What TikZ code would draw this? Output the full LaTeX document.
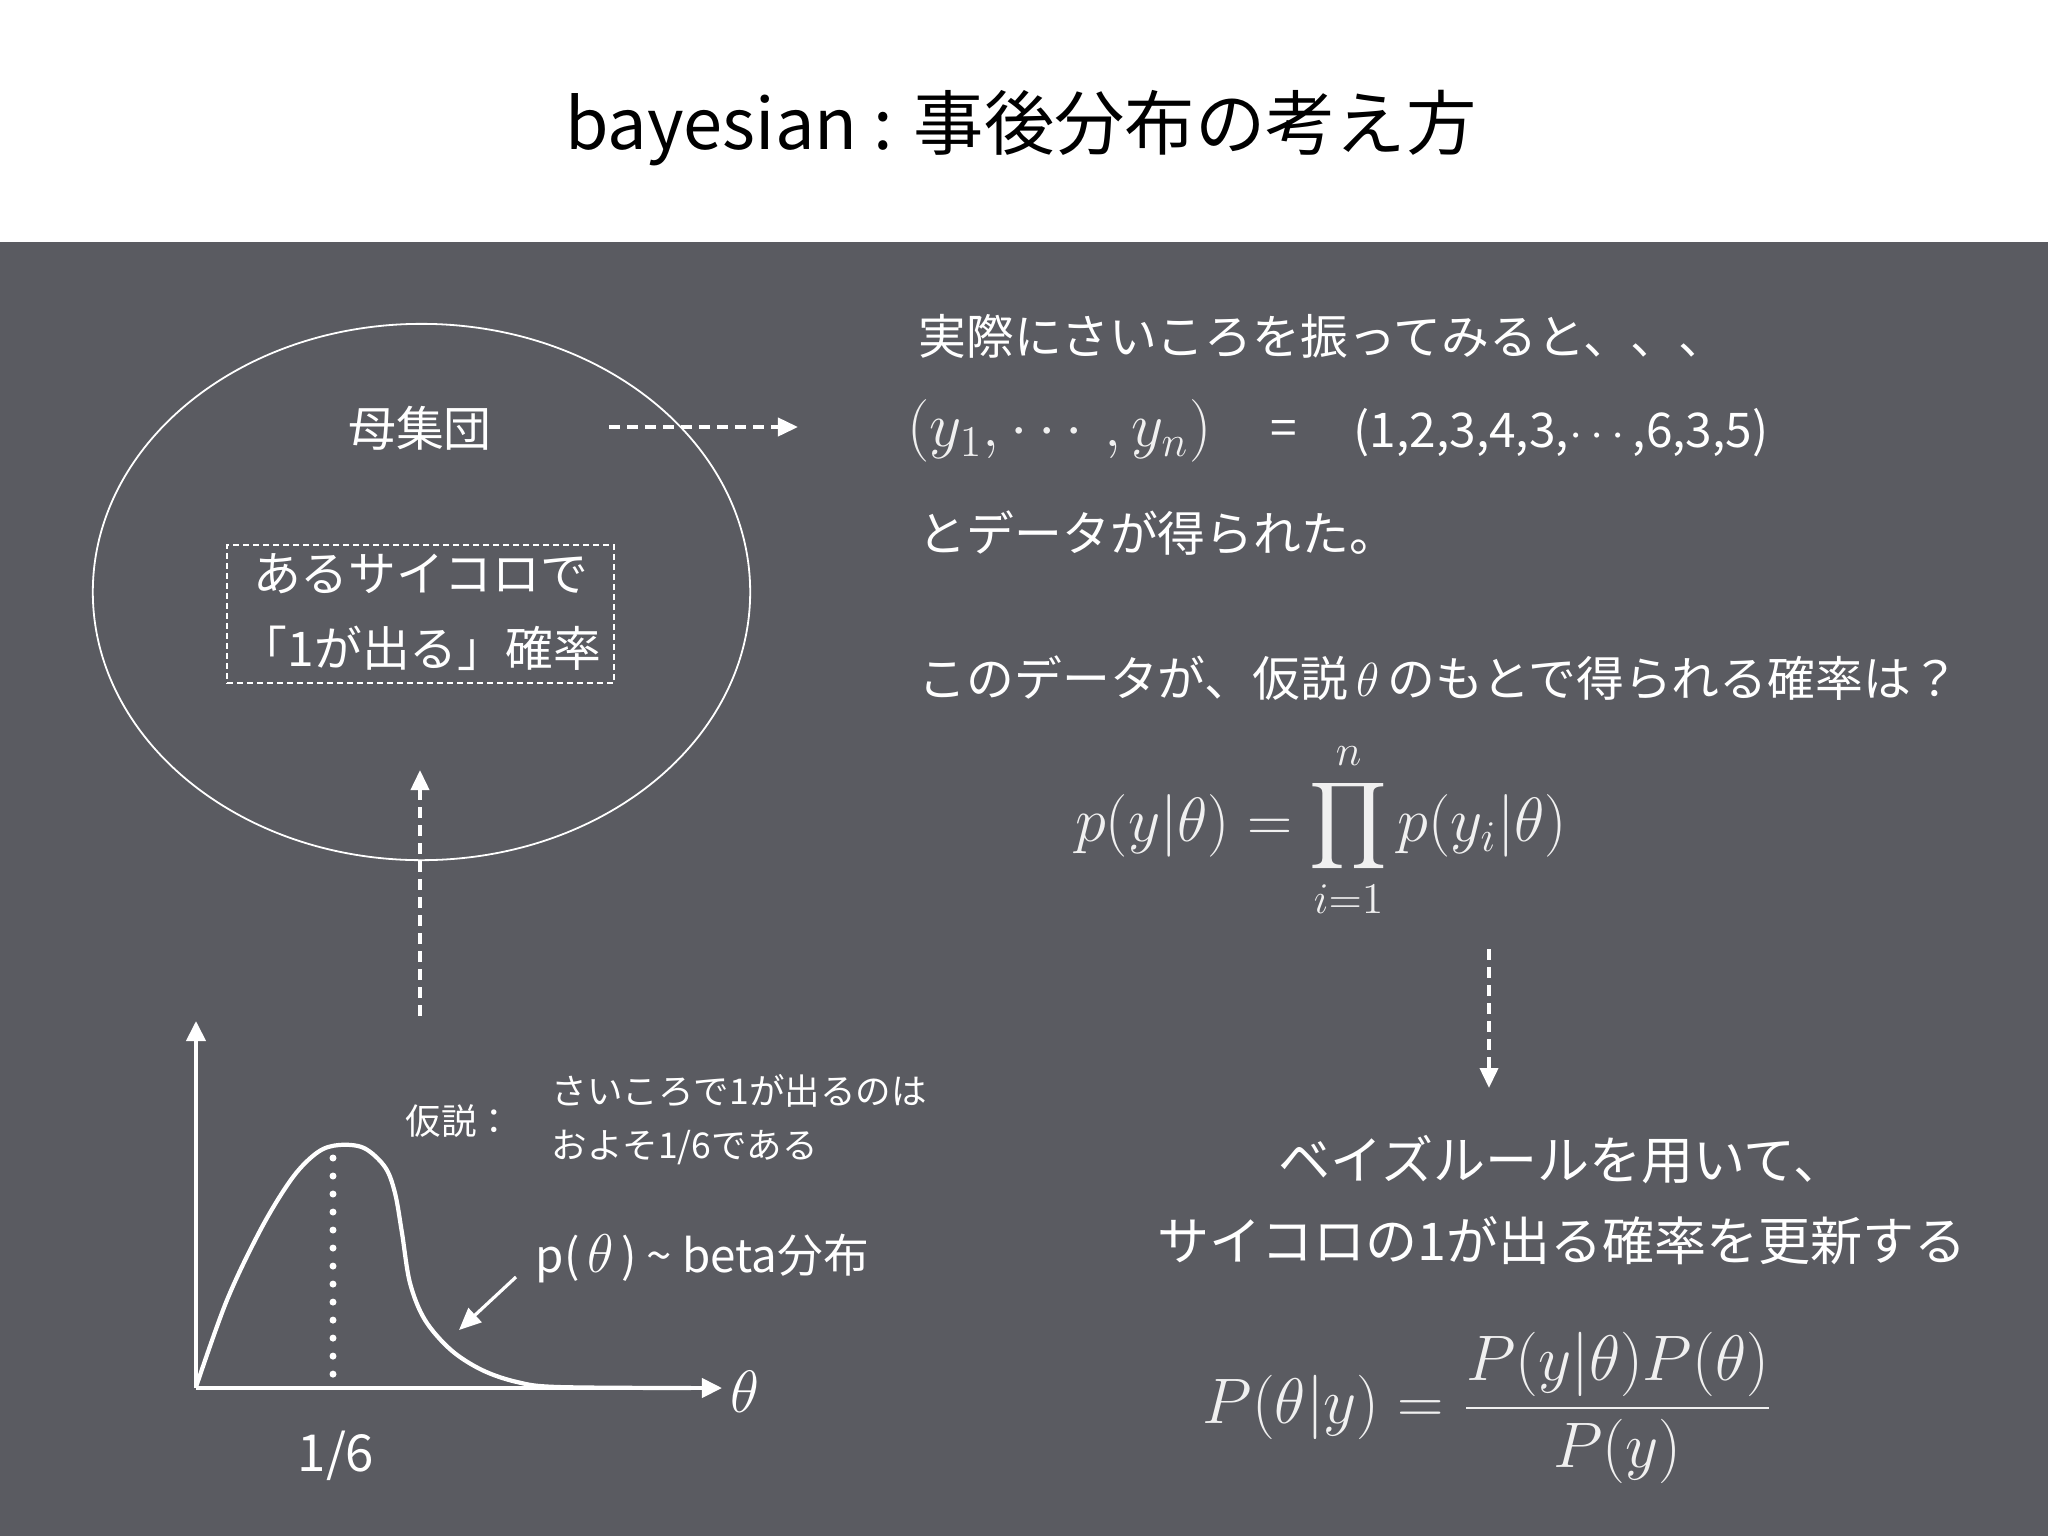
\RequirePackage{fix-cm}
\documentclass[tikz,border=0pt]{standalone}
\usepackage{amsmath}
\usepackage[no-math]{fontspec}
\newfontfamily\jp{Noto Sans CJK JP}
\usetikzlibrary{arrows.meta,shapes.geometric}
\definecolor{bg}{RGB}{90,91,97}
\definecolor{mathc}{RGB}{240,240,240}
\newcommand{\fsz}[2]{\fontsize{#1}{#2}\selectfont}
\tikzset{
  wtxt/.style={text=white, inner sep=0pt, font=\jp\fsz{13.6}{21.3}},
  smalltxt/.style={text=white, inner sep=0pt, font=\jp\fsz{10.1}{15}},
  mathtxt/.style={text=mathc, inner sep=0pt, font=\fsz{17.8}{21}},
  dasharrow/.style={white, line width=0.038cm, dash pattern=on 0.11cm off 0.07cm, -{Triangle[length=0.2cm, width=0.18cm]}},
  axisline/.style={white, line width=0.04cm, -{Triangle[length=0.2cm, width=0.19cm]}},
  dotline/.style={white, line width=0.07cm, line cap=round, dash pattern=on 0pt off 0.18cm},
  dicebox/.style={draw=white, line width=0.015cm, dash pattern=on 0.06cm off 0.04cm, minimum width=3.87cm, minimum height=1.38cm, inner sep=0pt}
}
\begin{document}
\begin{tikzpicture}[x=0.01cm, y=-0.01cm]
\useasboundingbox (0,0) rectangle (2048,1536);
\fill[white] (0,0) rectangle (2048,242);
\fill[bg] (0,242) rectangle (2048,1536);

% title
\node[font=\jp\fsz{20}{24}, text=black, inner sep=0pt] (title) at (1021,128) {bayesian : 事後分布の考え方};

% population ellipse
\node[ellipse, draw=white, line width=0.018cm, minimum width=6.57cm, minimum height=5.36cm, inner sep=0pt] (pop) at (421.5,592) {};
\node[wtxt] (boshu) at (420,428) {母集団};
\node[dicebox] (dicebox) at (420.5,614) {};
\node[wtxt, align=center] (dice) at (420.5,612) {あるサイコロで\\「1が出る」確率};

\coordinate (h1) at (609,427);
\coordinate (h2) at (798,427);
\draw[dasharrow] (h1) -- (h2);

% right column
\node[wtxt, anchor=west] (l1) at (918,336) {実際にさいころを振ってみると、、、};
\node[mathtxt, anchor=west] (ys) at (907,431) {$\left(y_1,\cdots,y_n\right)$};
\node[wtxt] (eq) at (1284,433) {=};
\node[wtxt, anchor=west] (data) at (1353,433) {(1,2,3,4,3,$\cdots$,6,3,5)};
\node[wtxt, anchor=west] (l2) at (918,533) {とデータが得られた。};
\node[wtxt, anchor=west] (l3) at (918,678) {このデータが、仮説\,$\theta$\,のもとで得られる確率は？};
\node[mathtxt] (lik) at (1321,830) {$\displaystyle p(y|\theta)=\prod_{i=1}^{n}p(y_i|\theta)$};

\coordinate (d1) at (1489,949);
\coordinate (d2) at (1489,1088);
\draw[dasharrow] (d1) -- (d2);

\node[wtxt, font=\jp\fsz{14.8}{23}, align=center] (bayestxt) at (1562,1200) {ベイズルールを用いて、\\サイコロの1が出る確率を更新する};
\node[mathtxt, font=\fsz{18.3}{22}] (bayes) at (1488,1408) {$\displaystyle P(\theta|y)=\frac{P(y|\theta)P(\theta)}{P(y)}$};

% graph
\coordinate (O) at (196,1388);
\coordinate (ytop) at (196,1021);
\coordinate (xend) at (722,1388);
\draw[axisline] (O) -- (ytop);
\draw[axisline] (O) -- (xend);
\node[text=white, inner sep=0pt, font=\fsz{17}{19}] (thlab) at (745,1392) {$\theta$};
\node[wtxt, font=\jp\fsz{14.5}{17}] (sixth) at (336,1456) {1/6};
\draw[white, line width=0.042cm, line join=round] plot[smooth, tension=0.55] coordinates {
 (196,1387) (227,1300) (262,1227) (293,1177) (318,1152) (339,1145) (364,1148) (385,1167) (395,1193) (402,1233) (410,1283) (425,1320) (451,1350) (482,1370) (517,1382) (558,1387) (691,1388)};
\draw[dotline] (333,1158) -- (333,1375);

\node[smalltxt, anchor=west] (kasetsu) at (405,1121) {仮説：};
\node[smalltxt, anchor=west, align=left, font=\jp\fsz{10.1}{15.4}] (hyp) at (551,1120) {さいころで1が出るのは\\およそ1/6である};
\node[wtxt, anchor=west, font=\jp\fsz{13}{16}] (plab) at (535,1258) {p(\,{\fsz{15.5}{16}$\theta$}\,) {\char"7E} beta分布};
\coordinate (pa1) at (516,1277);
\coordinate (pa2) at (459,1330);
\draw[white, line width=0.032cm, -{Triangle[length=0.22cm, width=0.19cm]}] (pa1) -- (pa2);

% arrow from graph to population
\coordinate (v1) at (420,1016);
\coordinate (v2) at (420,770);
\draw[dasharrow] (v1) -- (v2);
\end{tikzpicture}
\end{document}
